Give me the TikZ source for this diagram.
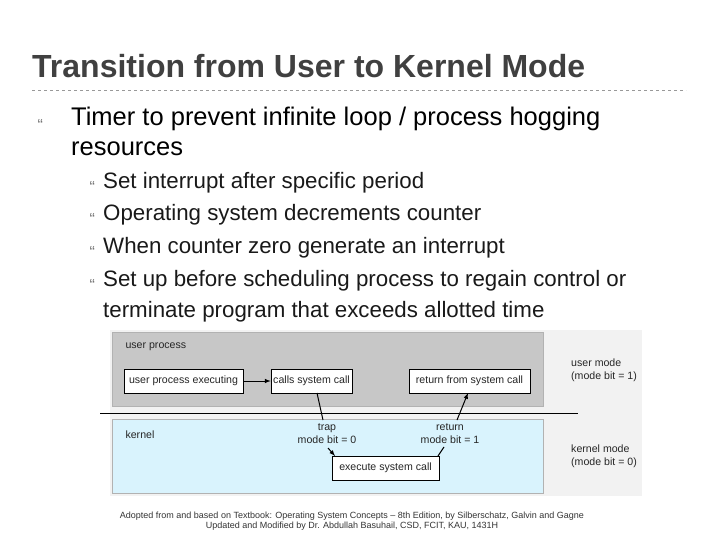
\documentclass[tikz,border=0pt]{standalone}
\usepackage{fontspec}
\setmainfont{Liberation Sans}
\begin{document}
\begin{tikzpicture}[x=1pt,y=-1pt,
  box/.style={draw=black,fill=white,line width=0.6pt,inner sep=0pt},
  lab/.style={font=\fontsize{10.6}{13}\selectfont,text=black!85},
  sub/.style={anchor=base west,font=\fontsize{22.3}{31}\selectfont,text=black!90},
  bul/.style={anchor=base west,font=\fontsize{16}{16}\selectfont,text=black!55},
  conn/.style={line width=1pt,-latex}]
\useasboundingbox (0,0) rectangle (720,540);
\node[anchor=base west,font=\bfseries\fontsize{32}{30}\selectfont,text=black!75,inner sep=0pt] (title) at (32,78) {Transition from User to Kernel Mode};
\draw[black!40,dashed,line width=0.5pt] (32,90) -- (686,90);
\node[bul] (b0) at (34,131) {``};
\node[anchor=base west,align=left,font=\fontsize{25.5}{30}\selectfont,inner sep=0pt] (t0) at (71,126) {Timer to prevent infinite loop / process hogging};
\node[anchor=base west,font=\fontsize{25.5}{30}\selectfont,inner sep=0pt] (t1) at (71,156) {resources};
\foreach \y/\t [count=\i] in {189/Set interrupt after specific period,221/Operating system decrements counter,253/When counter zero generate an interrupt,286/Set up before scheduling process to regain control or}{
  \node[bul] (b\i) at (86,\y+4) {``};
  \node[sub,inner sep=0pt] (s\i) at (103,\y) {\t};}
\node[sub,inner sep=0pt] (s5) at (103,317) {terminate program that exceeds allotted time};
% diagram
\fill[black!5] (110,330) rectangle (642,496);
\draw[fill=black!22,draw=black!30] (112,332) rectangle (543,406);
\draw[fill=cyan!15,draw=black!30] (112,419) rectangle (543,493);
\draw[line width=0.8pt] (100,413) -- (578,413);
\node[lab,anchor=west] (up) at (122,347) {user process};
\node[lab,anchor=west] (kn) at (122,435) {kernel};
\node[box,lab,minimum width=119pt,minimum height=24pt] (upe) at (183.5,381) {user process executing};
\node[box,lab,minimum width=81pt,minimum height=24pt] (csc) at (311.5,381) {calls system call};
\node[box,lab,minimum width=121pt,minimum height=24pt] (rsc) at (469.5,381) {return from system call};
\node[box,lab,minimum width=107pt,minimum height=24pt] (esc) at (385.5,468) {execute system call};
\node[lab,align=center,inner sep=0pt] (trap) at (327,434) {trap\\mode bit = 0};
\node[lab,align=center,inner sep=0pt] (ret) at (450,434) {return\\mode bit = 1};
\node[lab,align=left,anchor=west,inner sep=0pt] (um) at (571,370) {user mode\\(mode bit = 1)};
\node[lab,align=left,anchor=west,inner sep=0pt] (km) at (571,456) {kernel mode\\(mode bit = 0)};
\draw[conn] (upe) -- (csc);
\coordinate (c1) at (317,393); \coordinate (c2) at (323,420);
\coordinate (c3) at (328,448); \coordinate (c4) at (335,456);
\draw[line width=1pt] (c1) -- (c2);
\draw[conn] (c3) -- (c4);
\coordinate (r1) at (438,456); \coordinate (r2) at (444,447);
\coordinate (r3) at (457,420); \coordinate (r4) at (468,393);
\draw[line width=1pt] (r1) -- (r2);
\draw[conn] (r3) -- (r4);
\node[font=\fontsize{9}{10}\selectfont,align=center,text=black!80] (foot) at (352,521) {Adopted from and based on Textbook: Operating System Concepts -- 8th Edition, by Silberschatz, Galvin and Gagne\\Updated and Modified by Dr. Abdullah Basuhail, CSD, FCIT, KAU, 1431H};
\end{tikzpicture}
\end{document}
